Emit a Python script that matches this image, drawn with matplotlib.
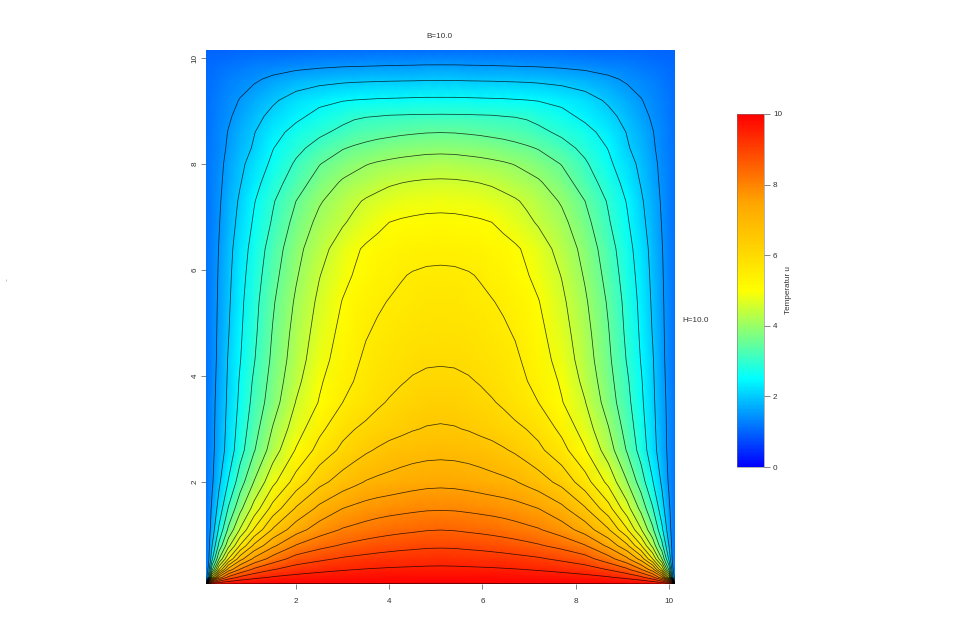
# Temperature field on a plate
import numpy as np
import matplotlib
matplotlib.use('Agg')
import matplotlib.pyplot as plt
from matplotlib.colors import LinearSegmentedColormap

plt.rc('font', family=['Liberation Sans', 'DejaVu Sans'], size=5.9)

# Left half of the plate, the right half mirrors it around x = 5.1
x_left = np.array([0.07, 0.12, 0.2, 0.35, 0.55, 0.8, 1.1, 1.5, 2.0, 2.5, 3.0, 3.25, 3.5, 3.75, 4.0, 4.25, 4.5, 4.8, 5.1])
y_rows = np.array([0.075, 0.2, 0.35, 0.55, 0.8, 1.1, 1.5, 2.0, 2.6, 3.0, 3.5, 3.9, 4.3, 4.8, 5.4, 5.9, 6.4, 6.9, 7.3, 7.65,
                   8.0, 8.3, 8.6, 8.9, 9.2, 9.6, 9.85, 10.15])
u_left = np.array([
    [1.15, 10.02, 10.02, 10.02, 10.02, 10.02, 10.02, 10.02, 10.02, 10.02, 10.02, 10.02, 10.02, 10.02, 10.02, 10.02, 10.02, 10.02, 10.02],
    [1.15, 2.20, 5.30, 7.67, 8.65, 9.12, 9.37, 9.55, 9.66, 9.72, 9.76, 9.78, 9.79, 9.80, 9.81, 9.815, 9.82, 9.83, 9.83],
    [1.15, 1.60, 3.40, 5.50, 7.20, 8.03, 8.60, 8.97, 9.23, 9.37, 9.46, 9.49, 9.52, 9.54, 9.56, 9.57, 9.58, 9.595, 9.60],
    [1.15, 1.35, 2.40, 4.00, 5.50, 6.80, 7.60, 8.20, 8.70, 8.90, 9.06, 9.11, 9.15, 9.19, 9.22, 9.25, 9.27, 9.29, 9.30],
    [1.15, 1.30, 2.00, 3.14, 4.35, 5.54, 6.60, 7.39, 8.03, 8.35, 8.55, 8.63, 8.70, 8.76, 8.81, 8.85, 8.88, 8.92, 8.93],
    [1.15, 1.28, 1.72, 2.60, 3.60, 4.54, 5.55, 6.55, 7.28, 7.75, 8.04, 8.12, 8.20, 8.27, 8.33, 8.38, 8.42, 8.47, 8.49],
    [1.15, 1.27, 1.58, 2.20, 3.04, 3.86, 4.69, 5.69, 6.55, 7.12, 7.50, 7.61, 7.70, 7.77, 7.82, 7.86, 7.90, 7.94, 7.95],
    [1.15, 1.27, 1.44, 1.92, 2.53, 3.26, 4.02, 4.86, 5.72, 6.35, 6.73, 6.88, 7.03, 7.11, 7.17, 7.24, 7.30, 7.35, 7.37],
    [1.15, 1.26, 1.40, 1.72, 2.20, 2.80, 3.46, 4.25, 5.04, 5.68, 6.11, 6.28, 6.43, 6.55, 6.65, 6.72, 6.78, 6.825, 6.84],
    [1.15, 1.25, 1.39, 1.69, 2.15, 2.70, 3.30, 4.03, 4.76, 5.38, 5.85, 5.99, 6.12, 6.21, 6.32, 6.39, 6.47, 6.53, 6.55],
    [1.15, 1.25, 1.38, 1.66, 2.10, 2.60, 3.15, 3.77, 4.52, 5.03, 5.50, 5.63, 5.75, 5.93, 6.04, 6.12, 6.20, 6.27, 6.30],
    [1.15, 1.245, 1.36, 1.63, 2.07, 2.55, 3.07, 3.68, 4.37, 4.93, 5.36, 5.51, 5.65, 5.76, 5.87, 5.97, 6.04, 6.10, 6.12],
    [1.15, 1.24, 1.35, 1.60, 2.04, 2.48, 2.97, 3.60, 4.26, 4.81, 5.24, 5.42, 5.58, 5.69, 5.78, 5.85, 5.90, 5.94, 5.95],
    [1.15, 1.235, 1.34, 1.58, 1.98, 2.43, 2.90, 3.53, 4.18, 4.71, 5.14, 5.32, 5.47, 5.57, 5.66, 5.72, 5.77, 5.82, 5.84],
    [1.15, 1.23, 1.33, 1.56, 1.93, 2.38, 2.84, 3.44, 4.07, 4.60, 5.02, 5.20, 5.35, 5.44, 5.52, 5.58, 5.62, 5.665, 5.68],
    [1.15, 1.225, 1.32, 1.54, 1.89, 2.32, 2.76, 3.33, 3.95, 4.48, 4.87, 5.03, 5.16, 5.28, 5.38, 5.47, 5.53, 5.57, 5.58],
    [1.15, 1.22, 1.30, 1.52, 1.85, 2.25, 2.68, 3.22, 3.84, 4.33, 4.73, 4.92, 5.07, 5.16, 5.23, 5.29, 5.33, 5.36, 5.37],
    [1.15, 1.21, 1.285, 1.48, 1.78, 2.14, 2.56, 3.05, 3.66, 4.13, 4.45, 4.60, 4.73, 4.88, 5.00, 5.05, 5.08, 5.11, 5.12],
    [1.15, 1.20, 1.27, 1.45, 1.72, 2.07, 2.47, 2.95, 3.50, 3.95, 4.27, 4.42, 4.55, 4.64, 4.72, 4.77, 4.81, 4.84, 4.85],
    [1.15, 1.195, 1.26, 1.42, 1.66, 1.97, 2.33, 2.78, 3.26, 3.72, 4.06, 4.16, 4.25, 4.35, 4.44, 4.49, 4.53, 4.56, 4.57],
    [1.15, 1.19, 1.25, 1.40, 1.61, 1.89, 2.20, 2.60, 3.07, 3.48, 3.77, 3.88, 3.98, 4.05, 4.10, 4.14, 4.17, 4.21, 4.22],
    [1.14, 1.18, 1.235, 1.35, 1.56, 1.80, 2.05, 2.48, 2.87, 3.19, 3.47, 3.56, 3.63, 3.70, 3.75, 3.80, 3.83, 3.86, 3.87],
    [1.13, 1.17, 1.22, 1.33, 1.52, 1.74, 1.98, 2.32, 2.66, 2.90, 3.12, 3.21, 3.29, 3.34, 3.38, 3.42, 3.45, 3.48, 3.49],
    [1.12, 1.15, 1.20, 1.29, 1.44, 1.64, 1.85, 2.13, 2.39, 2.65, 2.85, 2.94, 2.98, 3.00, 3.03, 3.04, 3.05, 3.055, 3.06],
    [1.10, 1.13, 1.18, 1.26, 1.38, 1.52, 1.70, 1.93, 2.20, 2.38, 2.48, 2.51, 2.53, 2.55, 2.56, 2.57, 2.58, 2.59, 2.59],
    [1.08, 1.10, 1.13, 1.19, 1.27, 1.36, 1.44, 1.58, 1.73, 1.83, 1.89, 1.91, 1.92, 1.93, 1.94, 1.945, 1.95, 1.96, 1.96],
    [1.05, 1.06, 1.08, 1.11, 1.15, 1.19, 1.25, 1.31, 1.38, 1.43, 1.47, 1.48, 1.49, 1.50, 1.51, 1.515, 1.52, 1.53, 1.53],
    [1.00, 1.00, 1.00, 1.00, 1.01, 1.02, 1.03, 1.04, 1.05, 1.06, 1.07, 1.07, 1.07, 1.075, 1.08, 1.08, 1.08, 1.08, 1.08],
])
contour_levels = [1.5, 2.0, 2.5, 3.0, 3.5, 4.0, 4.5, 5.0, 5.5, 6.0, 6.5, 7.0, 7.5, 8.0, 8.5, 9.0, 9.5, 10.0]
plate_ticks = [2, 4, 6, 8, 10]
bar_ticks = [0, 2, 4, 6, 8, 10]

x_full = np.r_[x_left, 10.2 - x_left[-2::-1]]
u_full = np.hstack([u_left, u_left[:, -2::-1]])

cmap = LinearSegmentedColormap.from_list('temp', ['#0000ff', '#00ffff', '#ffff00', '#ffa500', '#ff0000'], N=256)

W, H = 972, 631


def px_axes(left, top, right, bottom):
    """Axes placed by pixel edges."""
    return fig.add_axes([left / W, 1 - bottom / H, (right - left) / W, (bottom - top) / H])


fig = plt.figure(figsize=(W / 100, H / 100), dpi=100)
ax = px_axes(206, 50, 675, 584)
mesh = ax.pcolormesh(x_full, y_rows, u_full, shading='gouraud', cmap=cmap, vmin=0, vmax=10, rasterized=True)
ax.contour(x_full, y_rows, u_full, levels=contour_levels, colors='black', linewidths=0.55, alpha=0.75)
ax.set_xlim(0.069, 10.13)
ax.set_ylim(0.075, 10.15)
ax.set_xticks(plate_ticks)
ax.set_yticks(plate_ticks)
ax.tick_params(length=3.5, width=0.5, color='#555555', labelcolor='#333333')
ax.tick_params(axis='x', pad=6.5)
ax.tick_params(axis='y', pad=1.8)
for label in ax.get_yticklabels():
    label.set_rotation(90)
    label.set_verticalalignment('center')
for spine in ax.spines.values():
    spine.set_visible(False)

cax = px_axes(737, 114, 764, 467)
bar = fig.colorbar(mesh, cax=cax, ticks=bar_ticks)
bar.outline.set_linewidth(0.4)
bar.outline.set_edgecolor('#777777')
cax.tick_params(length=4, width=0.5, color='#555555', labelcolor='#333333', pad=2.5)

fig.text(439 / W, 1 - 36 / H, 'B=10.0', ha='center', va='center', color='#333333')
fig.text(696 / W, 1 - 320 / H, 'H=10.0', ha='center', va='center', color='#333333')
fig.text(788 / W, 1 - 290 / H, 'Temperatur u', rotation=90, ha='center', va='center', color='#333333')
fig.text(6 / W, 1 - 279 / H, '..', rotation=90, ha='center', va='center', color='#888888', fontsize=5)

fig.savefig('out.png', dpi=100)
